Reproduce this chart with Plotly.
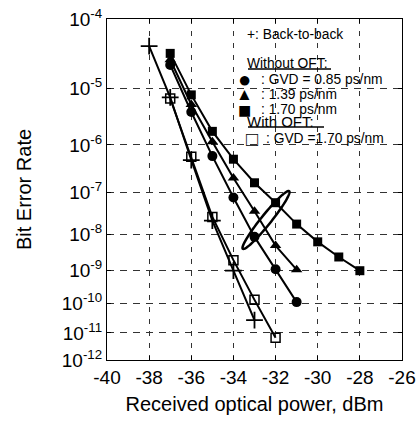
import numpy as np
import plotly.graph_objects as go

# ---------------- data ----------------
power_b2b = [-38, -37, -36, -35, -34, -33]
ber_b2b = [4.3e-5, 7.1e-6, 5.0e-7, 2.2e-8, 1.0e-9, 2.8e-11]

power_085 = [-37, -36, -35, -34, -33, -32, -31]
ber_085 = [2.3e-5, 4.0e-6, 6.0e-7, 7.8e-8, 8.5e-9, 1.1e-9, 1.1e-10]

power_139 = [-37, -36, -35, -34, -33, -32, -31]
ber_139 = [2.75e-5, 5.4e-6, 1.15e-6, 2.1e-7, 3.7e-8, 5.0e-9, 1.07e-9]

power_170 = [-37, -36, -35, -34, -33, -32, -31, -30, -29, -28]
ber_170 = [3.4e-5, 7.8e-6, 1.8e-6, 5.2e-7, 1.66e-7, 5.9e-8, 1.8e-8, 6.3e-9, 2.45e-9, 1.0e-9]

power_oft = [-37, -36, -35, -34, -33, -32]
ber_oft = [6.8e-6, 5.8e-7, 2.7e-8, 2.0e-9, 1.3e-10, 6.8e-12]

x_ticks = [-40, -38, -36, -34, -32, -30, -28, -26]
x_tick_labels = ["-40", "-38", "-36", "-34", "-32", "-30", "-28", "-26"]
y_exponents = [4, 5, 6, 7, 8, 9, 10, 11, 12]
y_tick_labels = ["10<sup>-%d</sup>" % e for e in y_exponents]

FONT = "Liberation Sans, Arial, sans-serif"


def ber_scale(b):
    b = np.asarray(b, dtype=float)
    return np.log10(-np.log10(b))


y_tick_vals = list(np.log10(np.array(y_exponents, dtype=float)))
y_lo, y_hi = np.log10(4.0), np.log10(12.0)

# layout geometry (pixels)
W, H = 418, 430
ML, MR, MT, MB = 107, 16, 19, 70
PW, PH = W - ML - MR, H - MT - MB


def px_to_paper(px, py):
    return (px - ML) / PW, (H - MB - py) / PH


def px_to_data(px, py):
    xd = -40 + (px - ML) / PW * 14
    yd = y_lo + (py - MT) / PH * (y_hi - y_lo)
    return xd, yd


fig = go.Figure()

line_style = dict(color="black", width=2)
series = [
    (power_b2b, ber_b2b, dict(symbol="cross-thin", size=12, color="black",
                              line=dict(color="black", width=1.8))),
    (power_085, ber_085, dict(symbol="circle", size=10, color="black")),
    (power_139, ber_139, dict(symbol="triangle-up", size=10, color="black")),
    (power_170, ber_170, dict(symbol="square", size=9, color="black")),
    (power_oft, ber_oft, dict(symbol="square-open", size=9, color="black",
                              line=dict(color="black", width=1.5))),
]
for xs, bs, mk in series:
    fig.add_trace(go.Scatter(x=xs, y=ber_scale(bs), mode="lines+markers",
                             line=line_style, marker=mk, showlegend=False,
                             cliponaxis=False))

shapes = []
# ellipse (annotation mark), defined in pixel geometry
cx, cy = 266, 220
a, b = 37, 5
ang = np.arctan2(-56, 45)
t = np.linspace(0, 2 * np.pi, 80)
ex = cx + a * np.cos(t) * np.cos(ang) - b * np.sin(t) * np.sin(ang)
ey = cy + a * np.cos(t) * np.sin(ang) + b * np.sin(t) * np.cos(ang)
pts = [px_to_data(x, y) for x, y in zip(ex, ey)]
path = "M " + " L ".join("%.4f,%.5f" % p for p in pts) + " Z"
shapes.append(dict(type="path", path=path, xref="x", yref="y",
                   line=dict(color="black", width=2.5)))

# underlines in legend
for (x0, x1, yy) in [(248, 331, 69), (248, 324, 127)]:
    p0 = px_to_paper(x0, yy)
    p1 = px_to_paper(x1, yy)
    shapes.append(dict(type="line", xref="paper", yref="paper",
                       x0=p0[0], x1=p1[0], y0=p0[1], y1=p1[1],
                       line=dict(color="black", width=1.5)))

annotations = []


def add_text(px, py, text, size=13.8, xanchor="left", yanchor="middle"):
    xp, yp = px_to_paper(px, py)
    annotations.append(dict(x=xp, y=yp, xref="paper", yref="paper",
                            text=text, showarrow=False, xanchor=xanchor,
                            yanchor=yanchor, borderpad=0,
                            font=dict(family=FONT, size=size, color="black")))


dy = 1
add_text(246, 34 + dy, "+: Back-to-back")
add_text(246, 62 + dy, "Without OFT:")
add_text(244, 79 + dy, "●", size=22, xanchor="center")
add_text(260, 79 + dy, ": GVD = 0.85 ps/nm")
add_text(244, 93 + dy, "▲", size=17, xanchor="center")
add_text(260, 93 + dy, ": 1.39 ps/nm")
add_text(244, 109 + dy, "■", size=22, xanchor="center")
add_text(260, 108 + dy, ": 1.70 ps/nm")
add_text(246, 121 + dy, "With OFT:", size=15)
add_text(252, 138 + dy, "□", size=20, xanchor="center")
add_text(265, 137 + dy, ": GVD =1.70 ps/nm")
add_text(217, 427, "(a)", size=19, xanchor="center", yanchor="top")

fig.update_layout(
    width=W, height=H,
    margin=dict(l=ML, r=MR, t=MT, b=MB, autoexpand=False),
    paper_bgcolor="white", plot_bgcolor="white",
    font=dict(family=FONT, color="black"),
    shapes=shapes, annotations=annotations,
    xaxis=dict(range=[-40, -26], tickvals=x_ticks, ticktext=x_tick_labels,
               automargin=False,
               showgrid=True, gridcolor="#333", gridwidth=1,
               griddash="5px,7px",
               showline=True, linecolor="black", linewidth=1.2, mirror="ticks",
               ticks="inside", ticklen=4, tickcolor="black",
               tickfont=dict(size=19, family=FONT),
               title=dict(text="Received optical power, dBm",
                          font=dict(size=20, family=FONT), standoff=10),
               zeroline=False, fixedrange=True),
    yaxis=dict(range=[y_hi, y_lo], tickvals=y_tick_vals, ticktext=y_tick_labels,
               automargin=False,
               showgrid=True, gridcolor="#333", gridwidth=1,
               griddash="7px,6px",
               showline=True, linecolor="black", linewidth=1.2, mirror="ticks",
               ticks="inside", ticklen=4, tickcolor="black",
               tickfont=dict(size=19, family=FONT),
               title=dict(text="Bit Error Rate",
                          font=dict(size=20, family=FONT), standoff=24),
               zeroline=False, fixedrange=True),
)

fig.write_html("out.html")
